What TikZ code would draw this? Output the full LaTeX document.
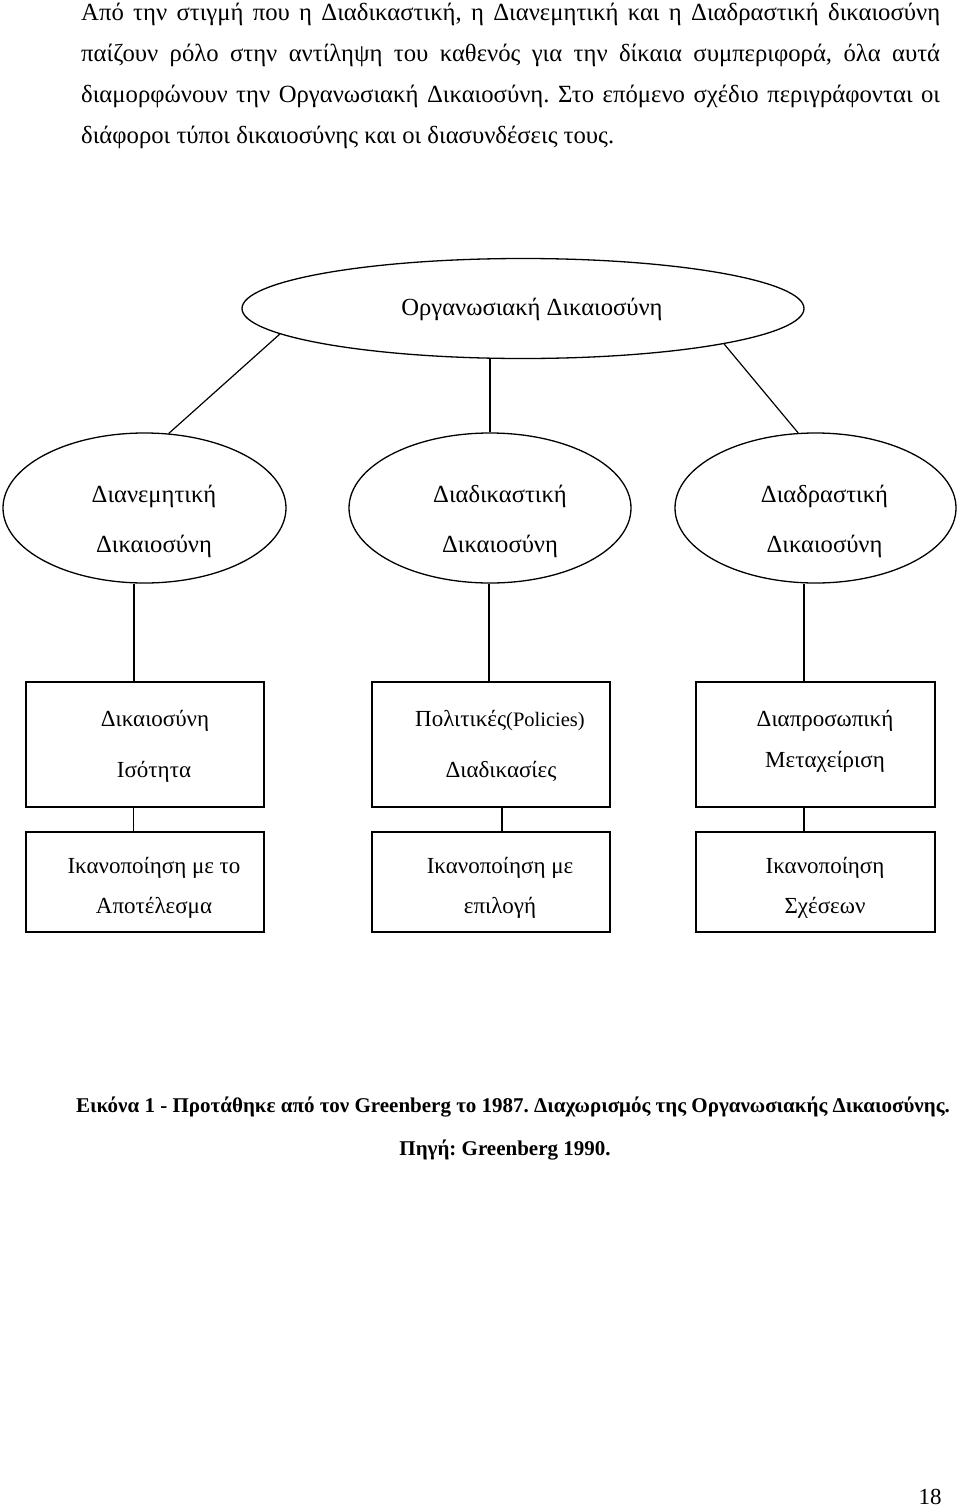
\documentclass[tikz,border=0pt]{standalone}
\usepackage{fontspec}
\setmainfont{Liberation Serif}
\usetikzlibrary{shapes.geometric}
\frenchspacing
\begin{document}
\frenchspacing
\begin{tikzpicture}[x=1pt,y=-1pt,
  etxt/.style={font=\fontsize{24.6}{28}\selectfont, inner sep=0pt, anchor=base},
  txt/.style={font=\fontsize{23}{28}\selectfont, inner sep=0pt, anchor=base},
  ptxt/.style={font=\fontsize{24.7}{28}\selectfont, inner sep=0pt, anchor=base west},
  captxt/.style={font=\fontsize{21}{26}\selectfont\bfseries, inner sep=0pt, anchor=base},
  oval/.style={ellipse, draw, line width=1.3pt, inner sep=0pt},
  boxnode/.style={draw, line width=1.4pt, inner sep=0pt, minimum width=238pt},
  conn/.style={line width=1.2pt}]
\useasboundingbox (0,0) rectangle (960,1510);
% paragraph
\node[ptxt] (p1) at (81,20) {\makebox[859pt][s]{Από την στιγμή που η Διαδικαστική, η Διανεμητική και η Διαδραστική δικαιοσύνη}};
\node[ptxt] (p2) at (81,61) {\makebox[859pt][s]{παίζουν ρόλο στην αντίληψη του καθενός για την δίκαια συμπεριφορά, όλα αυτά}};
\node[ptxt] (p3) at (81,102) {\makebox[859pt][s]{διαμορφώνουν την Οργανωσιακή Δικαιοσύνη. Στο επόμενο σχέδιο περιγράφονται οι}};
\node[ptxt] (p4) at (81,143) {διάφοροι τύποι δικαιοσύνης και οι διασυνδέσεις τους.};
% ellipses
\node[oval, minimum width=562pt, minimum height=100pt] (top) at (523,308.5) {};
\node[oval, minimum width=283pt, minimum height=150pt] (e1) at (144.5,508) {};
\node[oval, minimum width=282pt, minimum height=150pt] (e2) at (490,508) {};
\node[oval, minimum width=281pt, minimum height=150pt] (e3) at (815.5,508) {};
\node[etxt] (ttop) at (532,315) {Οργανωσιακή Δικαιοσύνη};
\node[etxt] (t1a) at (154,502) {Διανεμητική};
\node[etxt] (t1b) at (154,552) {Δικαιοσύνη};
\node[etxt] (t2a) at (500,502) {Διαδικαστική};
\node[etxt] (t2b) at (500,552) {Δικαιοσύνη};
\node[etxt] (t3a) at (824.5,502) {Διαδραστική};
\node[etxt] (t3b) at (824.5,552) {Δικαιοσύνη};
% boxes
\node[boxnode, minimum height=125pt] (b1) at (145,744.5) {};
\node[boxnode, minimum height=125pt] (b2) at (491,744.5) {};
\node[boxnode, minimum height=125pt, minimum width=239pt] (b3) at (815.5,744.5) {};
\node[boxnode, minimum height=100pt] (c1) at (145,882) {};
\node[boxnode, minimum height=100pt] (c2) at (491,882) {};
\node[boxnode, minimum height=100pt, minimum width=239pt] (c3) at (815.5,882) {};
\node[txt] (tb1a) at (155,726) {Δικαιοσύνη};
\node[txt] (tb1b) at (154,777) {Ισότητα};
\node[txt] (tb2a) at (500,726) {Πολιτικές{\fontsize{20.5}{24}\selectfont(Policies)}};
\node[txt] (tb2b) at (501,777) {Διαδικασίες};
\node[txt] (tb3a) at (825,726) {Διαπροσωπική};
\node[txt] (tb3b) at (825,767) {Μεταχείριση};
\node[txt] (tc1a) at (154,873) {Ικανοποίηση με το};
\node[txt] (tc1b) at (154,913) {Αποτέλεσμα};
\node[txt] (tc2a) at (500,873) {Ικανοποίηση με};
\node[txt] (tc2b) at (500,913) {επιλογή};
\node[txt] (tc3a) at (825,873) {Ικανοποίηση};
\node[txt] (tc3b) at (825,913) {Σχέσεων};
% connectors
\draw[conn] (top.186.3) -- (e1.72.6);
\draw[conn] (top.south -| e2.north) -- (e2.north);
\draw[conn] (top.350.9) -- (e3.103.1);
\draw[conn] ([xshift=-10.5pt]e1.south) -- ([xshift=-11pt]b1.north);
\draw[conn] ([xshift=-1pt]e2.south) -- ([xshift=-2pt]b2.north);
\draw[conn] ([xshift=-11.5pt]e3.south) -- ([xshift=-11.5pt]b3.north);
\draw[conn] ([xshift=-11.5pt]b1.south) -- ([xshift=-11.5pt]c1.north);
\draw[conn] ([xshift=11pt]b2.south) -- ([xshift=11pt]c2.north);
\draw[conn] ([xshift=-11.5pt]b3.south) -- ([xshift=-11.5pt]c3.north);
% caption
\node[captxt] (cap1) at (513,1112) {Εικόνα 1 - Προτάθηκε από τον Greenberg το 1987. Διαχωρισμός της Οργανωσιακής Δικαιοσύνης.};
\node[captxt] (cap2) at (505,1155) {Πηγή: Greenberg 1990.};
\node[txt] (pg) at (930,1504) {18};
\end{tikzpicture}
\end{document}
